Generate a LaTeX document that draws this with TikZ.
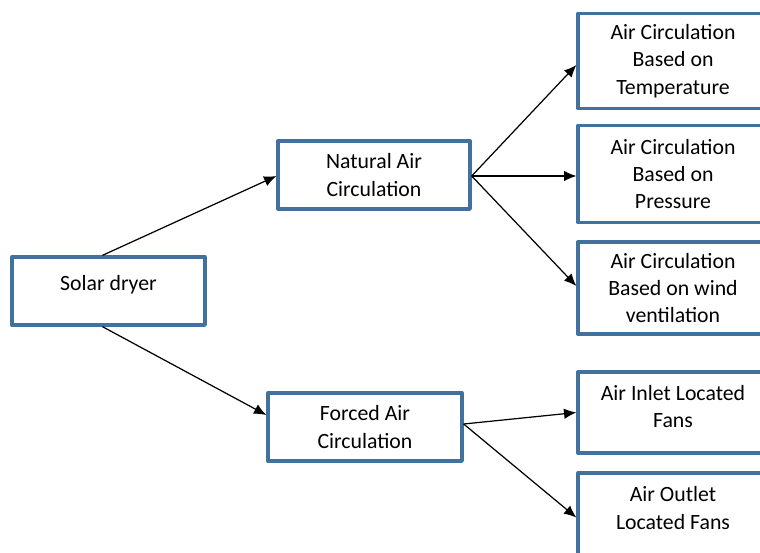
\documentclass[tikz,border=0pt]{standalone}
\usepackage{fontspec}
\setmainfont{Carlito}
\usetikzlibrary{arrows.meta}
\definecolor{boxblue}{RGB}{65,113,156}
\begin{document}
\begin{tikzpicture}[x=0.02cm, y=-0.02cm, >={Latex[length=7pt,width=6pt]},
	font=\fontsize{12.4}{15.6}\selectfont, line join=round,
	box/.style={draw=boxblue, line width=1.9pt, align=center, inner sep=0pt, fill=white},
	conn/.style={->, line width=0.7pt}]
	\def\px{0.02cm} % one pixel
	\useasboundingbox (0,0) rectangle (760,552);
	\clip (0,0) rectangle (760,552);
	% left and middle column
	\node[box, minimum width=193*\px, minimum height=68*\px] (solar) at (108.5,291) {Solar dryer\\[-6.6pt]};
	\node[box, minimum width=192*\px, minimum height=68*\px] (natural) at (374,175) {Natural Air\\Circulation};
	\node[box, minimum width=194*\px, minimum height=68*\px] (forced) at (365,427) {Forced Air\\Circulation};
	% right column
	\node[box, minimum width=190*\px, minimum height=95*\px] (temp) at (673,61) {Air Circulation\\Based on\\Temperature};
	\node[box, minimum width=190*\px, minimum height=97*\px] (press) at (673,174) {Air Circulation\\Based on\\Pressure};
	\node[box, minimum width=190*\px, minimum height=92*\px] (wind) at (673,288) {Air Circulation\\Based on wind\\ventilation};
	\node[box, minimum width=190*\px, minimum height=81*\px] (inlet) at (673,412.5) {Air Inlet Located\\Fans\\[-8.8pt]};
	\node[box, minimum width=190*\px, minimum height=89*\px] (outlet) at (673,517.5) {Air Outlet\\Located Fans\\[-4.8pt]};
	% connectors
	\draw[conn] ([xshift=-6*\px]solar.north) -- ([yshift=-1*\px]natural.west);
	\draw[conn] ([xshift=-6*\px]solar.south) -- ([yshift=12*\px]forced.west);
	\draw[conn] ([yshift=-1*\px]natural.east) -- ([yshift=-4*\px]temp.west);
	\draw[conn] ([yshift=-1*\px]natural.east) -- ([yshift=-2*\px]press.west);
	\draw[conn] ([yshift=-1*\px]natural.east) -- ([yshift=2*\px]wind.west);
	\draw[conn] ([yshift=3*\px]forced.east) -- (inlet.west);
	\draw[conn] ([yshift=3*\px]forced.east) -- (outlet.west);
\end{tikzpicture}
\end{document}
